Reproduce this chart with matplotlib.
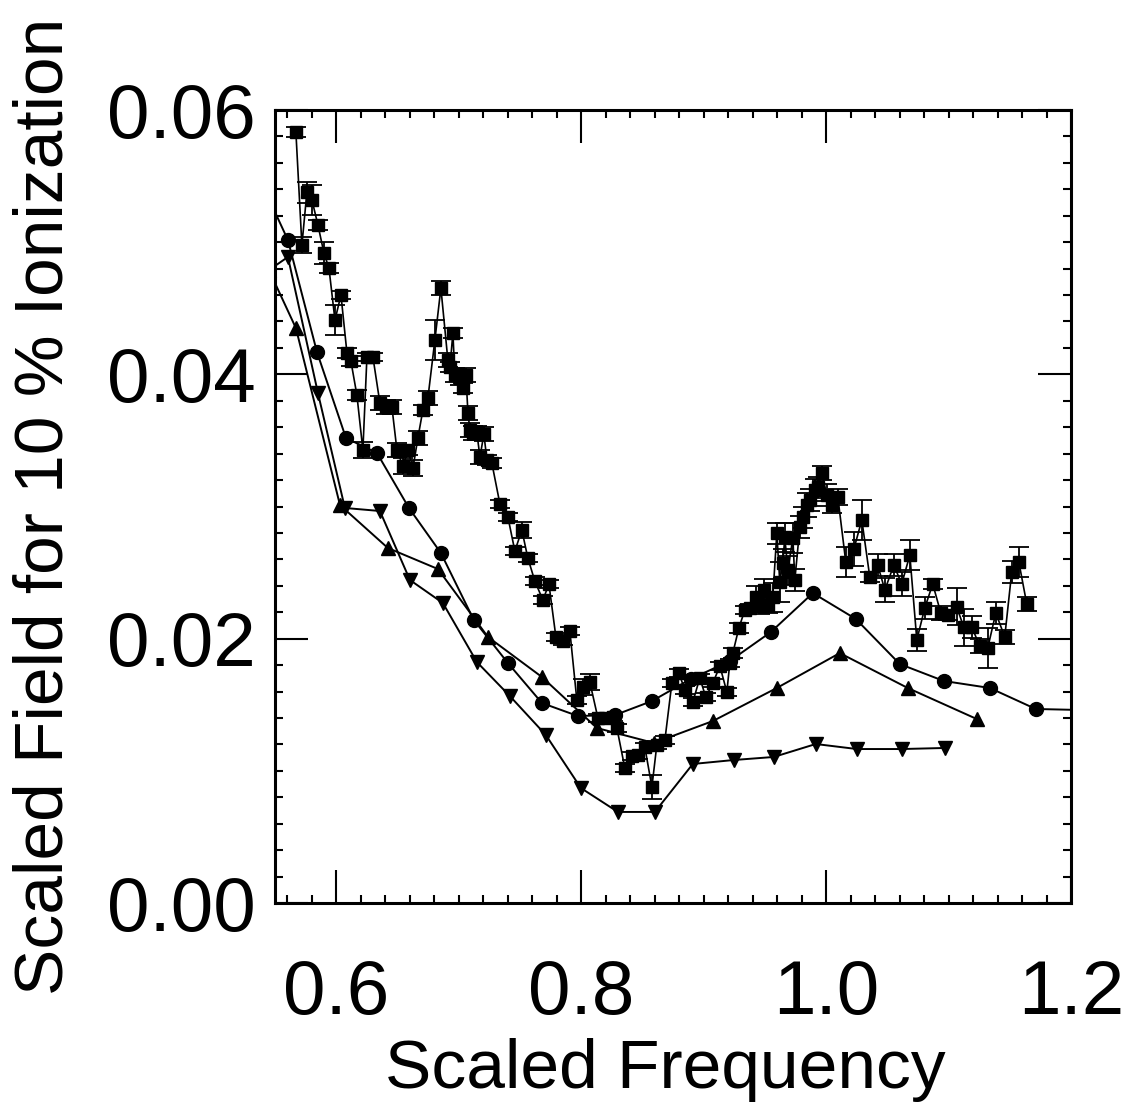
import numpy as np
import matplotlib
matplotlib.use("Agg")
from matplotlib import pyplot as plt
from matplotlib.ticker import MultipleLocator

# experimental points (squares with error bars)
freq_sq = [0.5671, 0.5720, 0.5761, 0.5802, 0.5851, 0.5900, 0.5941, 0.5990, 0.6039, 0.6088,
           0.6120, 0.6169, 0.6218, 0.6251, 0.6300, 0.6357, 0.6406, 0.6455, 0.6496, 0.6545,
           0.6586, 0.6627, 0.6667, 0.6708, 0.6749, 0.6806, 0.6855, 0.6912, 0.6929, 0.6953,
           0.6969, 0.7010, 0.7035, 0.7059, 0.7076, 0.7092, 0.7116, 0.7149, 0.7174, 0.7206,
           0.7231, 0.7271, 0.7337, 0.7402, 0.7459, 0.7516, 0.7565, 0.7622, 0.7688, 0.7737,
           0.7794, 0.7851, 0.7908, 0.7965, 0.8014, 0.8071, 0.8137, 0.8194, 0.8259, 0.8292,
           0.8357, 0.8414, 0.8463, 0.8520, 0.8578, 0.8618, 0.8684, 0.8741, 0.8798, 0.8847,
           0.8912, 0.8969, 0.9018, 0.9076, 0.9133, 0.9190, 0.9214, 0.9239, 0.9288, 0.9337,
           0.9378, 0.9427, 0.9459, 0.9492, 0.9524, 0.9565, 0.9598, 0.9622, 0.9647, 0.9663,
           0.9688, 0.9729, 0.9745, 0.9786, 0.9810, 0.9843, 0.9867, 0.9908, 0.9933, 0.9965,
           1.0006, 1.0047, 1.0096, 1.0161, 1.0227, 1.0292, 1.0357, 1.0422, 1.0480, 1.0553,
           1.0618, 1.0684, 1.0741, 1.0806, 1.0871, 1.0937, 1.0994, 1.1067, 1.1124, 1.1190,
           1.1255, 1.1320, 1.1386, 1.1459, 1.1516, 1.1574, 1.1639]
field_sq = [0.05833, 0.04978, 0.05379, 0.05319, 0.05130, 0.04918, 0.04804, 0.04411, 0.04600, 0.04161,
            0.04101, 0.03844, 0.03427, 0.04131, 0.04131, 0.03783, 0.03753, 0.03753, 0.03427, 0.03306,
            0.03427, 0.03291, 0.03518, 0.03730, 0.03821, 0.04260, 0.04653, 0.04108, 0.04055, 0.04313,
            0.03995, 0.03972, 0.03896, 0.03995, 0.03707, 0.03579, 0.03556, 0.03556, 0.03374, 0.03548,
            0.03352, 0.03329, 0.03019, 0.02921, 0.02663, 0.02822, 0.02610, 0.02436, 0.02292, 0.02414,
            0.02013, 0.01982, 0.02058, 0.01536, 0.01634, 0.01672, 0.01400, 0.01400, 0.01407, 0.01324,
            0.01021, 0.01112, 0.01120, 0.01180, 0.00878, 0.01195, 0.01233, 0.01665, 0.01740, 0.01612,
            0.01521, 0.01702, 0.01559, 0.01665, 0.01793, 0.01596, 0.01816, 0.01892, 0.02081, 0.02217,
            0.02232, 0.02315, 0.02247, 0.02368, 0.02255, 0.02315, 0.02799, 0.02429, 0.02572, 0.02769,
            0.02519, 0.02762, 0.02444, 0.02845, 0.02920, 0.03011, 0.03049, 0.03125, 0.03147, 0.03253,
            0.03087, 0.03011, 0.03072, 0.02580, 0.02678, 0.02898, 0.02467, 0.02557, 0.02368, 0.02557,
            0.02414, 0.02633, 0.01990, 0.02232, 0.02414, 0.02194, 0.02179, 0.02240, 0.02088, 0.02088,
            0.01944, 0.01929, 0.02194, 0.02013, 0.02504, 0.02580, 0.02262]
err_sq = [0.0004, 0.0006, 0.0008, 0.0011, 0.0004, 0.0008, 0.0004, 0.0011, 0.0003, 0.0004,
          0.0004, 0.0004, 0.0006, 0.0003, 0.0003, 0.0005, 0.0005, 0.0005, 0.0005, 0.0006,
          0.0004, 0.0006, 0.0005, 0.0004, 0.0005, 0.0015, 0.0005, 0.0005, 0.0004, 0.0004,
          0.0005, 0.0005, 0.0004, 0.0005, 0.0005, 0.0005, 0.0005, 0.0005, 0.0005, 0.0005,
          0.0004, 0.0004, 0.0003, 0.0003, 0.0003, 0.0006, 0.0003, 0.0003, 0.0003, 0.0003,
          0.0003, 0.0003, 0.0003, 0.0003, 0.0006, 0.0006, 0.0003, 0.0003, 0.0003, 0.0003,
          0.0003, 0.0003, 0.0003, 0.0003, 0.0009, 0.0003, 0.0003, 0.0003, 0.0003, 0.0003,
          0.0003, 0.0003, 0.0003, 0.0003, 0.0003, 0.0003, 0.0003, 0.0004, 0.0004, 0.0003,
          0.0003, 0.0008, 0.0006, 0.0008, 0.0006, 0.0011, 0.0008, 0.0015, 0.0011, 0.0011,
          0.0011, 0.0011, 0.0008, 0.0008, 0.0008, 0.0009, 0.0008, 0.0008, 0.0008, 0.0005,
          0.0008, 0.0006, 0.0006, 0.0011, 0.0013, 0.0015, 0.0004, 0.0008, 0.0009, 0.0008,
          0.0009, 0.0011, 0.0008, 0.0008, 0.0004, 0.0005, 0.0004, 0.0014, 0.0014, 0.0008,
          0.0005, 0.0015, 0.0008, 0.0005, 0.0008, 0.0011, 0.0005]

# calculations (circles, up triangles, down triangles)
freq_circ = [0.5394, 0.5606, 0.5843, 0.6080, 0.6333, 0.6594, 0.6855, 0.7124, 0.7402, 0.7680,
             0.7973, 0.8276, 0.8578, 0.8896, 0.9214, 0.9549, 0.9892, 1.0243, 1.0602, 1.0961,
             1.1337, 1.1712, 1.2100]
field_circ = [0.0544, 0.05016, 0.04169, 0.03518, 0.03405, 0.02989, 0.02648, 0.02141, 0.01816, 0.01513,
              0.01415, 0.01422, 0.01528, 0.01695, 0.01831, 0.02050, 0.02345, 0.02149, 0.01808, 0.01680,
              0.01627, 0.01468, 0.01460]

freq_up = [0.5451, 0.5671, 0.6031, 0.6422, 0.6831, 0.7239, 0.7680, 0.8129, 0.8594, 0.9076,
           0.9598, 1.0112, 1.0667, 1.1231]
field_up = [0.04789, 0.04350, 0.03011, 0.02686, 0.02527, 0.02013, 0.01710, 0.01324, 0.01211, 0.01377,
            0.01627, 0.01891, 0.01627, 0.01392]

freq_down = [0.5451, 0.5606, 0.5851, 0.6071, 0.6357, 0.6602, 0.6871, 0.7149, 0.7418, 0.7712,
             0.7998, 0.8300, 0.8602, 0.8912, 0.9247, 0.9573, 0.9916, 1.0251, 1.0618, 1.0969]
field_down = [0.04789, 0.04888, 0.03859, 0.02989, 0.02966, 0.02444, 0.02270, 0.01823, 0.01566, 0.01271,
              0.00870, 0.00689, 0.00689, 0.01052, 0.01082, 0.01105, 0.01203, 0.01165, 0.01165, 0.01173]

plt.rcParams['font.family'] = ['Liberation Sans', 'DejaVu Sans']

fig = plt.figure(figsize=(11.25, 11.18), dpi=100)
ax = fig.add_axes([0.2444, 0.1923, 0.7076, 0.7093])

ax.errorbar(freq_sq, field_sq, yerr=err_sq, fmt='s-', color='black', ms=9, lw=1.2,
            elinewidth=1.3, capsize=7, capthick=1.3)
ax.plot(freq_circ, field_circ, 'o-', color='black', ms=10, lw=1.4)
ax.plot(freq_up, field_up, '^-', color='black', ms=9.5, lw=1.4)
ax.plot(freq_down, field_down, 'v-', color='black', ms=9.5, lw=1.4)

ax.set_xlim(0.55, 1.2)
ax.set_ylim(0.0, 0.06)
ax.xaxis.set_major_locator(MultipleLocator(0.2))
ax.xaxis.set_minor_locator(MultipleLocator(0.02))
ax.yaxis.set_major_locator(MultipleLocator(0.02))
ax.yaxis.set_minor_locator(MultipleLocator(0.002))
ax.xaxis.set_major_formatter(plt.FuncFormatter(lambda v, p: "{:.1f}".format(v)))
ax.yaxis.set_major_formatter(plt.FuncFormatter(lambda v, p: "{:.2f}".format(v)))

for s in ax.spines.values():
    s.set_linewidth(2.2)
ax.tick_params(which='both', direction='in', top=True, right=True, width=1.5)
ax.tick_params(which='major', length=24, labelsize=55)
ax.tick_params(which='minor', length=6)
ax.tick_params(axis='x', which='major', pad=40)
ax.tick_params(axis='y', which='major', pad=14)

ax.set_xlabel("Scaled Frequency", fontsize=50)
ax.set_ylabel("Scaled Field for 10 % Ionization", fontsize=50)
ax.xaxis.set_label_coords(0.49, -0.21)
ax.xaxis.label.set_va('center')
ax.yaxis.set_label_coords(-0.29, 0.5)
ax.yaxis.label.set_va('center')

plt.savefig("out.png", dpi=100)
plt.close()
